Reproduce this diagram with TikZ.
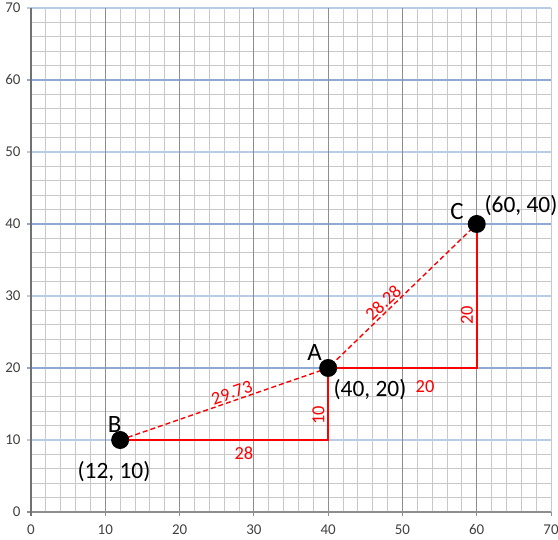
\documentclass[tikz,border=0pt]{standalone}
\usepackage{fontspec}
\setmainfont{Carlito}
\usetikzlibrary{calc}
\definecolor{cred}{HTML}{FF0000}
\definecolor{cminor}{HTML}{C8C8C8}
\definecolor{cmajor}{HTML}{8E8E8E}
\definecolor{cblue}{HTML}{8FAAD2}
\definecolor{clblue}{HTML}{B9CBE6}
\definecolor{ctext}{HTML}{404040}
\tikzset{
  every picture/.style={x=7.4286bp, y=7.2bp},
  dot/.style={circle, fill=black, inner sep=0pt, minimum size=18bp},
  ptname/.style={font=\fontsize{25}{28}\selectfont, inner sep=0pt},
  ptcoord/.style={font=\fontsize{23.5}{26}\selectfont, inner sep=0pt},
  dist/.style={text=cred, font=\fontsize{18.5}{21}\selectfont, inner sep=0pt},
  ticklabel/.style={text=ctext, font=\fontsize{15}{17}\selectfont, inner sep=0pt},
  leg/.style={draw=cred, line width=2bp},
  hyp/.style={draw=cred, line width=1.4bp, dash pattern=on 5bp off 3bp},
}
\begin{document}
\begin{tikzpicture}
  \useasboundingbox (-4.173,-3.75) rectangle (70.94,71.11);

  % ---- grid
  \foreach \i in {0,2,...,70} {
    \draw[cminor, line width=0.9bp] (\i,0) -- (\i,70);
    \draw[cminor, line width=0.9bp] (0,\i) -- (70,\i);
  }
  \foreach \i in {10,30,50,70} \draw[clblue, line width=1.2bp] (-0.55,\i) -- (70,\i);
  \foreach \i in {20,40,60} \draw[cblue, line width=1.4bp] (-0.55,\i) -- (70,\i);
  \foreach \i in {10,20,...,60} \draw[cmajor, line width=1bp] (\i,-0.55) -- (\i,70);
  \draw[cmajor, line width=1bp] (70,-0.55) -- (70,0);
  \draw[cmajor, line width=1.1bp] (-0.55,0) -- (70,0);
  \draw[cmajor!80!black, line width=1.2bp] (0,-0.55) -- (0,70);

  % ---- axis numbers
  \foreach \i in {0,10,...,70} {
    \node[ticklabel] (x\i) at (\i,-2.43) {\i};
    \node[ticklabel, anchor=east] (y\i) at (-1.4,\i) {\i};
  }

  % ---- points
  \coordinate (B) at (12,10);
  \coordinate (A) at (40,20);
  \coordinate (C) at (60,40);
  \coordinate (BA) at (40,10);
  \coordinate (AC) at (60,20);

  \draw[leg] (B) -- (BA) -- (A);
  \draw[leg] (A) -- (AC) -- (C);
  \draw[hyp] (B) -- node[dist, sloped, pos=0.55, above=1.5bp] (dBA) {29.73} (A)
                 -- node[dist, sloped, pos=0.41, above=1.5bp] (dAC) {28.28} (C);

  \foreach \p in {A, B, C} \node[dot] (\p dot) at (\p) {};

  % ---- labels
  \node[ptname] (Bname) at (11.27,12.15) {B};
  \node[ptcoord] (Bcoord) at (11.17,5.56) {(12, 10)};
  \node[ptname] (Aname) at (38.17,22.15) {A};
  \node[ptcoord] (Acoord) at (45.63,16.94) {(40, 20)};
  \node[ptname] (Cname) at (57.35,41.8) {C};
  \node[ptcoord] (Ccoord) at (65.96,42.5) {(60, 40)};

  \node[dist] (dBx) at (28.67,8.19) {28};
  \node[dist, rotate=90] (dBy) at (38.70,13.47) {10};
  \node[dist] (dAx) at (53.04,17.36) {20};
  \node[dist, rotate=90] (dAy) at (58.69,27.36) {20};
\end{tikzpicture}
\end{document}
